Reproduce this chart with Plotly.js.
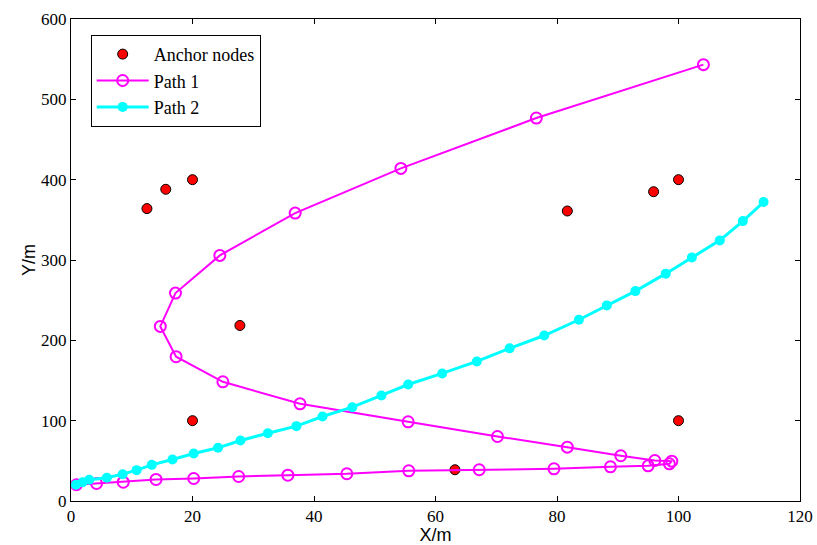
<!DOCTYPE html>
<html><head><meta charset="utf-8">
<script src="https://cdn.plot.ly/plotly-3.0.1.min.js"></script>
<style>html,body{margin:0;padding:0;background:#fff;}</style>
</head><body><div id="chart" style="width:817px;height:545px;"></div>
<script>
const anchorX = [20, 20, 100, 100, 63.2, 27.8, 12.5, 15.6, 81.7, 95.9];
const anchorY = [100, 400, 100, 400, 38.9, 218.5, 364, 388, 361, 385];

const path1X = [0.9, 4.2, 8.6, 14.0, 20.2, 27.6, 35.7, 45.4, 55.6, 67.2, 79.5, 88.8, 95.0, 98.5, 98.9, 96.1, 90.5, 81.7, 70.2, 55.5, 37.7, 25.0, 17.3, 14.7, 17.2, 24.5, 36.9, 54.3, 76.6, 104.1];
const path1Y = [20.2, 21.8, 23.4, 26.8, 28.0, 30.5, 32.1, 33.9, 37.6, 38.9, 40.1, 42.6, 43.8, 46.3, 49.6, 50.4, 56.3, 67.0, 80.3, 98.6, 121.0, 148.4, 179.6, 217.3, 258.8, 305.7, 358.4, 414.0, 476.7, 543.2];

const path2X = [0.8, 1.9, 3.0, 5.9, 8.5, 10.8, 13.3, 16.7, 20.2, 24.2, 27.9, 32.4, 37.1, 41.4, 46.3, 51.1, 55.5, 61.1, 66.8, 72.2, 77.9, 83.6, 88.2, 92.9, 97.9, 102.2, 106.8, 110.6, 114.0];
const path2Y = [20.2, 23.4, 26.4, 28.9, 33.4, 38.4, 45.0, 51.7, 59.2, 66.2, 75.3, 84.4, 93.2, 105.2, 116.8, 131.4, 145.0, 158.8, 173.7, 190.0, 206.0, 225.6, 243.5, 261.3, 283.0, 303.2, 324.4, 348.4, 372.1];

const xTicks = [0, 20, 40, 60, 80, 100, 120];
const yTicks = [0, 100, 200, 300, 400, 500, 600];

const serif = 'Liberation Serif';
const sans = 'Liberation Sans';

const traces = [
  {x: anchorX, y: anchorY, mode: 'markers', name: 'Anchor nodes',
   marker: {color: '#ff0000', size: 10, line: {color: '#000', width: 1}}},
  {x: path1X, y: path1Y, mode: 'lines+markers', name: 'Path 1',
   line: {color: '#ff00ff', width: 2},
   marker: {symbol: 'circle-open', color: '#ff00ff', size: 11, line: {width: 2}}},
  {x: path2X, y: path2Y, mode: 'lines+markers', name: 'Path 2',
   line: {color: '#00ffff', width: 3},
   marker: {color: '#00ffff', size: 10}}
];

function axis(range, tickvals, title, standoff) {
  return {
    range: range, tickvals: tickvals,
    showgrid: false, zeroline: false, showline: true, linecolor: '#000', linewidth: 1,
    mirror: 'ticks', ticks: 'inside', ticklen: 5, tickcolor: '#000',
    tickfont: {family: serif, size: 17, color: '#000'},
    title: {text: title, font: {family: sans, size: 18, color: '#000'}, standoff: standoff}
  };
}

const layout = {
  width: 817, height: 545,
  margin: {l: 71, r: 17, t: 19, b: 44},
  paper_bgcolor: '#fff', plot_bgcolor: '#fff',
  font: {family: serif, color: '#000'},
  showlegend: true,
  legend: {x: 0.027, y: 0.967, xanchor: 'left', yanchor: 'top',
    bgcolor: '#fff', bordercolor: '#000', borderwidth: 1,
    font: {family: serif, size: 18, color: '#000'},
    itemwidth: 52, tracegroupgap: 0},
  xaxis: axis([0, 120], xTicks, 'X/m', 6),
  yaxis: axis([0, 600], yTicks, 'Y/m', 0)
};

Plotly.newPlot('chart', traces, layout, {displayModeBar: false, staticPlot: true});
</script>
</body></html>
